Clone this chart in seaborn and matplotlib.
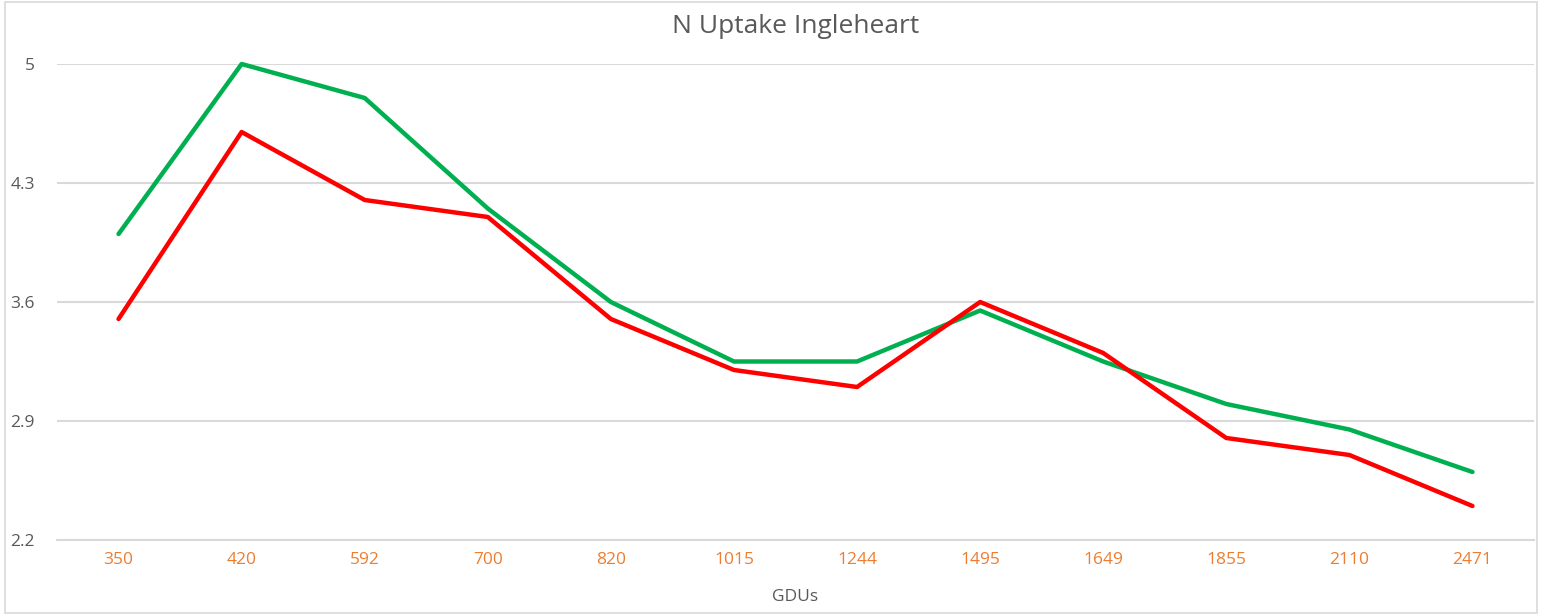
import matplotlib

matplotlib.use("Agg")
import matplotlib.pyplot as plt
import pandas as pd
import seaborn as sns
from matplotlib.patches import Rectangle

# values
gdus = ["350", "420", "592", "700", "820", "1015", "1244", "1495", "1649", "1855", "2110", "2471"]
green_vals = [4.0, 5.0, 4.8, 4.15, 3.6, 3.25, 3.25, 3.55, 3.25, 3.0, 2.85, 2.6]
red_vals = [3.5, 4.6, 4.2, 4.1, 3.5, 3.2, 3.1, 3.6, 3.3, 2.8, 2.7, 2.4]
y_ticks = [2.2, 2.9, 3.6, 4.3, 5.0]
y_tick_labels = ["2.2", "2.9", "3.6", "4.3", "5"]

df = pd.DataFrame({
    "GDUs": gdus * 2,
    "value": green_vals + red_vals,
    "series": ["green"] * len(gdus) + ["red"] * len(gdus),
})

sns.set_style("white")
plt.rcParams["font.family"] = ["Open Sans", "DejaVu Sans"]

fig = plt.figure(figsize=(15.44, 6.15), dpi=100)
ax = fig.add_axes([57 / 1544, 75 / 615, (1534 - 57) / 1544, (540 - 64) / 615])

sns.lineplot(
    data=df, x="GDUs", y="value", hue="series",
    palette={"green": "#00B050", "red": "#FF0000"},
    linewidth=3.2, legend=False, sort=False, ax=ax,
)
for line in ax.lines:
    line.set_clip_on(False)
    line.set_solid_capstyle("round")
    line.set_solid_joinstyle("round")

ax.set_xlim(-0.5, len(gdus) - 0.5)
ax.set_ylim(2.2, 5.0)
ax.set_yticks(y_ticks)
ax.set_yticklabels(y_tick_labels)
ax.yaxis.grid(True, color="#D9D9D9", linewidth=1.5)
ax.set_axisbelow(True)
for side in ["top", "left", "right"]:
    ax.spines[side].set_visible(False)
ax.spines["bottom"].set_color("#D9D9D9")
ax.spines["bottom"].set_linewidth(1.5)
ax.tick_params(axis="x", colors="#ED7D31", labelsize=12.5, length=0, pad=9)
ax.tick_params(axis="y", colors="#595959", labelsize=12.5, length=0, pad=16)
ax.set_ylabel("")
ax.set_xlabel("GDUs", color="#595959", fontsize=12.5, labelpad=15)
ax.set_title("N Uptake Ingleheart", color="#595959", fontsize=19, pad=22)

# light frame around the whole chart
fig.patches.append(Rectangle((5 / 1544, 2 / 615), 1532 / 1544, 611 / 615,
                             transform=fig.transFigure, fill=False,
                             edgecolor="#D9D9D9", linewidth=1.2))

fig.savefig("out.png", dpi=100)
plt.close(fig)
